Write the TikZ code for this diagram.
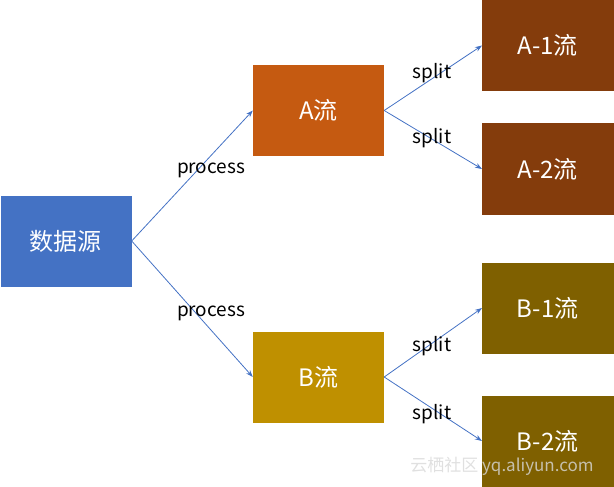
\documentclass[tikz,border=0pt]{standalone}
\usepackage{fontspec}
\setmainfont{Noto Sans CJK SC}
\usetikzlibrary{arrows.meta}
\definecolor{srcblue}{HTML}{4472C4}
\definecolor{aorange}{HTML}{C55A11}
\definecolor{bgold}{HTML}{BF9000}
\definecolor{abrown}{HTML}{843C0C}
\definecolor{bolive}{HTML}{7F6000}
\definecolor{linkblue}{HTML}{4472C4}
\definecolor{wmgray}{HTML}{D8D8D8}
\begin{document}
\begin{tikzpicture}[x=1pt,y=-1pt,
  box/.style={draw=none,inner sep=0pt,minimum width=131pt,minimum height=91pt,text=white,font=\fontsize{24}{28}\selectfont},
  link/.style={draw=linkblue,line width=0.8pt,-{Stealth[length=7pt,width=5pt]}},
  lbl/.style={font=\fontsize{19}{23}\selectfont,text=black,inner sep=0pt}]
\useasboundingbox (0,0) rectangle (614,487);
\node[box,fill=srcblue] (src) at (66,241) {数据源};
\node[box,fill=aorange] (a) at (318.5,110.5) {A流};
\node[box,fill=bgold] (b) at (318.5,377) {B流};
\node[box,fill=abrown,anchor=west,minimum width=140pt] (a1) at (482,45.5) {\hspace*{-9pt}A-1流};
\node[box,fill=abrown,anchor=west,minimum width=140pt] (a2) at (482,169) {\hspace*{-9pt}A-2流};
\node[box,fill=bolive,anchor=west,minimum width=140pt] (b1) at (482,308) {\hspace*{-9pt}B-1流};
\node[box,fill=bolive,anchor=west,minimum width=140pt] (b2) at (482,441) {\hspace*{-9pt}B-2流};
\draw[link] (src.east) -- (a.west);
\draw[link] (src.east) -- (b.west);
\draw[link] (a.east) -- (a1.west);
\draw[link] (a.east) -- (a2.west);
\draw[link] (b.east) -- (b1.west);
\draw[link] (b.east) -- (b2.west);
\node[lbl] (p1) at (211,170) {process};
\node[lbl] (p2) at (211,313) {process};
\node[lbl] (s1) at (432,73) {split};
\node[lbl] (s2) at (432,138) {split};
\node[lbl] (s3) at (432,346) {split};
\node[lbl] (s4) at (432,414) {split};
\node[text=wmgray,opacity=0.8,font=\fontsize{17}{20}\selectfont,inner sep=0pt] (wm) at (502,466) {云栖社区 yq.aliyun.com};
\end{tikzpicture}
\end{document}
